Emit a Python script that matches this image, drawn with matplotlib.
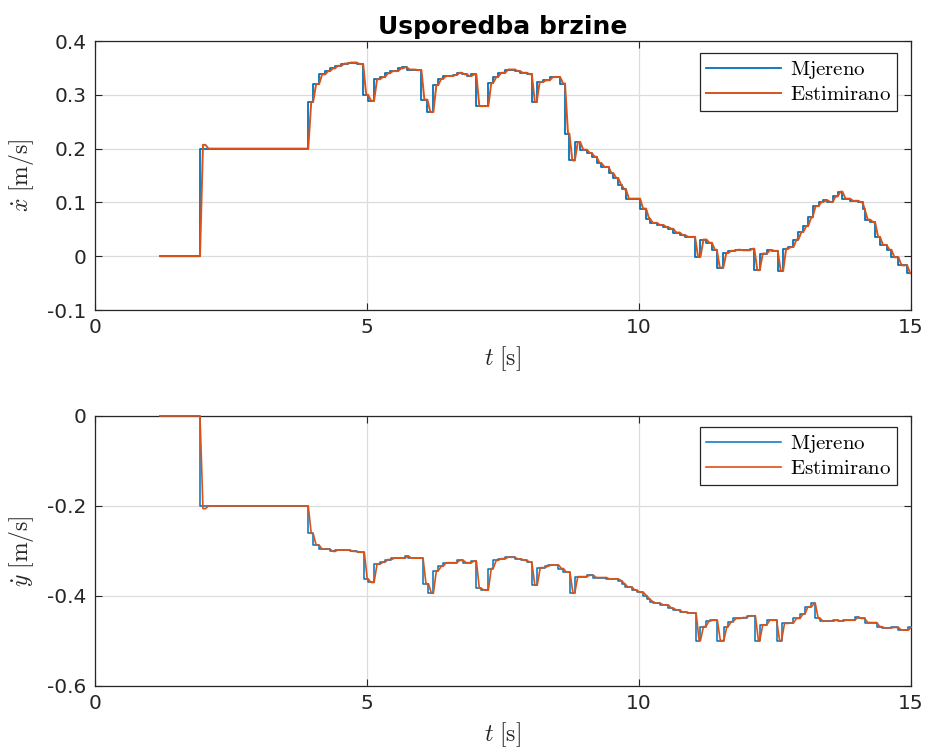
import numpy as np
import matplotlib
matplotlib.use("Agg")
import matplotlib.pyplot as plt

plt.rcParams['mathtext.fontset'] = 'cm'
plt.rcParams['axes.unicode_minus'] = False
plt.rcParams['font.family'] = ['DejaVu Sans']

# ---------------- data ----------------
x_times = [1.2, 1.93, 2.03, 3.92, 4.01, 4.12, 4.23, 4.32, 4.41, 4.53, 4.65, 4.81, 4.93,
           5.02, 5.13, 5.24, 5.33, 5.42, 5.57, 5.65, 5.73, 5.88, 6.0, 6.11, 6.22, 6.31,
           6.4, 6.58, 6.65, 6.74, 6.83, 6.92, 7.01, 7.23, 7.32, 7.41, 7.54, 7.72, 7.81,
           7.94, 8.03, 8.12, 8.24, 8.36, 8.55, 8.64, 8.72, 8.82, 8.92, 9.04, 9.13, 9.22,
           9.31, 9.44, 9.53, 9.62, 9.68, 9.76, 10.02, 10.13, 10.2, 10.33, 10.45, 10.54,
           10.63, 10.75, 10.85, 11.03, 11.13, 11.24, 11.34, 11.43, 11.55, 11.64, 11.76,
           11.86, 12.04, 12.12, 12.22, 12.35, 12.44, 12.55, 12.65, 12.74, 12.84, 12.93,
           13.02, 13.11, 13.19, 13.3, 13.39, 13.46, 13.56, 13.65, 13.74, 13.88, 14.03,
           14.11, 14.15, 14.25, 14.34, 14.43, 14.55, 14.64, 14.77, 14.93, 15.0]
x_measured = [0.0, 0.2, 0.2, 0.287, 0.32, 0.338, 0.344, 0.349, 0.354, 0.358, 0.36, 0.357, 0.30,
              0.289, 0.329, 0.333, 0.34, 0.344, 0.349, 0.351, 0.347, 0.346, 0.291, 0.268, 0.318, 0.33,
              0.335, 0.337, 0.341, 0.338, 0.335, 0.338, 0.279, 0.322, 0.333, 0.341, 0.347, 0.344, 0.341,
              0.338, 0.287, 0.324, 0.327, 0.333, 0.321, 0.228, 0.178, 0.212, 0.198, 0.192, 0.185, 0.173,
              0.166, 0.154, 0.145, 0.132, 0.124, 0.107, 0.0885, 0.07, 0.062, 0.058, 0.054, 0.051,
              0.044, 0.039, 0.036, -0.001, 0.031, 0.025, 0.012, -0.021, 0.006, 0.01, 0.012,
              0.011, 0.014, -0.026, 0.005, 0.011, 0.01, -0.027, 0.014, 0.017, 0.031, 0.045,
              0.056, 0.072, 0.093, 0.101, 0.104, 0.101, 0.111, 0.12, 0.107, 0.103, 0.1,
              0.087, 0.068, 0.063, 0.036, 0.021, 0.012, -0.002, -0.017, -0.032, -0.032]
x_estimated = [0.0, 0.207, 0.2, 0.287, 0.32, 0.338, 0.344, 0.349, 0.354, 0.358, 0.36, 0.357, 0.30,
               0.289, 0.329, 0.333, 0.34, 0.344, 0.349, 0.351, 0.347, 0.346, 0.291, 0.268, 0.318, 0.33,
               0.335, 0.337, 0.341, 0.338, 0.335, 0.338, 0.279, 0.322, 0.333, 0.341, 0.347, 0.344, 0.341,
               0.338, 0.287, 0.324, 0.327, 0.333, 0.321, 0.228, 0.178, 0.212, 0.198, 0.192, 0.185, 0.173,
               0.166, 0.154, 0.145, 0.132, 0.124, 0.107, 0.0885, 0.07, 0.062, 0.058, 0.054, 0.051,
               0.044, 0.039, 0.036, -0.001, 0.031, 0.025, 0.012, -0.021, 0.006, 0.01, 0.012,
               0.011, 0.014, -0.026, 0.005, 0.011, 0.01, -0.027, 0.014, 0.017, 0.031, 0.045,
               0.056, 0.072, 0.093, 0.101, 0.104, 0.101, 0.111, 0.12, 0.107, 0.103, 0.1,
               0.087, 0.068, 0.063, 0.036, 0.021, 0.012, -0.002, -0.017, -0.032, -0.032]

y_times = [1.2, 1.93, 2.03, 3.92, 4.01, 4.12, 4.32, 4.41, 4.69, 4.81, 4.95, 5.02, 5.13, 5.24,
           5.33, 5.45, 5.7, 5.76, 6.03, 6.13, 6.22, 6.31, 6.4, 6.65, 6.77, 6.92, 7.01, 7.1,
           7.23, 7.32, 7.41, 7.54, 7.72, 7.84, 7.94, 8.03, 8.13, 8.27, 8.33, 8.52, 8.61,
           8.73, 8.82, 9.04, 9.16, 9.4, 9.62, 9.68, 9.74, 9.87, 9.96, 10.08, 10.14, 10.2,
           10.26, 10.39, 10.54, 10.63, 10.75, 10.88, 11.05, 11.13, 11.23, 11.3, 11.44,
           11.56, 11.64, 11.73, 11.86, 11.98, 12.14, 12.22, 12.35, 12.53, 12.62, 12.74,
           12.84, 12.96, 13.05, 13.17, 13.24, 13.33, 13.57, 13.66, 13.75, 13.97, 14.03,
           14.15, 14.37, 14.46, 14.64, 14.77, 14.95, 15.0]
y_measured = [0.0, -0.2, -0.2, -0.261, -0.287, -0.296, -0.301, -0.298, -0.301, -0.303, -0.362, -0.37, -0.329, -0.325,
              -0.319, -0.316, -0.311, -0.316, -0.373, -0.394, -0.344, -0.334, -0.326, -0.321, -0.326, -0.322, -0.383, -0.387,
              -0.339, -0.321, -0.317, -0.314, -0.318, -0.321, -0.325, -0.376, -0.337, -0.334, -0.331, -0.339, -0.347,
              -0.393, -0.357, -0.354, -0.359, -0.362, -0.366, -0.373, -0.38, -0.387, -0.392, -0.399, -0.407, -0.413,
              -0.416, -0.42, -0.427, -0.431, -0.436, -0.438, -0.499, -0.468, -0.456, -0.454, -0.499,
              -0.468, -0.457, -0.45, -0.448, -0.444, -0.499, -0.464, -0.454, -0.499, -0.461, -0.46,
              -0.45, -0.44, -0.424, -0.416, -0.45, -0.456, -0.454, -0.456, -0.454, -0.446, -0.45,
              -0.459, -0.468, -0.471, -0.47, -0.476, -0.47, -0.47]
y_estimated = [0.0, -0.206, -0.2, -0.261, -0.287, -0.296, -0.301, -0.298, -0.301, -0.303, -0.362, -0.37, -0.329, -0.325,
               -0.319, -0.316, -0.311, -0.316, -0.373, -0.394, -0.344, -0.334, -0.326, -0.321, -0.326, -0.322, -0.383, -0.387,
               -0.339, -0.321, -0.317, -0.314, -0.318, -0.321, -0.325, -0.376, -0.337, -0.334, -0.331, -0.339, -0.347,
               -0.393, -0.357, -0.354, -0.359, -0.362, -0.366, -0.373, -0.38, -0.387, -0.392, -0.399, -0.407, -0.413,
               -0.416, -0.42, -0.427, -0.431, -0.436, -0.438, -0.499, -0.468, -0.456, -0.454, -0.499,
               -0.468, -0.457, -0.45, -0.448, -0.444, -0.499, -0.464, -0.454, -0.499, -0.461, -0.46,
               -0.45, -0.44, -0.424, -0.416, -0.45, -0.456, -0.454, -0.456, -0.454, -0.446, -0.45,
               -0.459, -0.468, -0.471, -0.47, -0.476, -0.47, -0.47]

x_ticks = [0, 5, 10, 15]
x_ticklabels = ['0', '5', '10', '15']
top_yticks = [-0.1, 0, 0.1, 0.2, 0.3, 0.4]
top_yticklabels = ['-0.1', '0', '0.1', '0.2', '0.3', '0.4']
bot_yticks = [-0.6, -0.4, -0.2, 0]
bot_yticklabels = ['-0.6', '-0.4', '-0.2', '0']
series_labels = ['Mjereno', 'Estimirano']
title_text = 'Usporedba brzine'

BLUE = '#0072BD'
ORANGE = '#D95319'
AXC = '#262626'
RAMP = 0.055  # visual rise time of the estimate line


def ramp_path(t, v, d):
    """Connect successive samples with short slanted transitions."""
    xs, ys = [t[0]], [v[0]]
    for i in range(1, len(t)):
        end = min(t[i] + d, t[i + 1]) if i + 1 < len(t) else t[i]
        xs += [t[i], end]
        ys += [v[i - 1], v[i]]
    return xs, ys


fig = plt.figure(figsize=(9.26, 7.51), dpi=100)
ax1 = fig.add_axes([0.1026, 0.5872, 0.8812, 0.3582])
ax2 = fig.add_axes([0.1026, 0.0866, 0.8812, 0.3595])


def style(ax, yticks, yticklabels, ylim, ylabel, legend_top):
    ax.set_xlim(0, 15)
    ax.set_ylim(*ylim)
    ax.set_xticks(x_ticks)
    ax.set_xticklabels(x_ticklabels)
    ax.set_yticks(yticks)
    ax.set_yticklabels(yticklabels)
    ax.grid(True, color='#dcdcdc', linewidth=0.9)
    ax.set_axisbelow(True)
    ax.tick_params(direction='in', length=5, width=0.8, colors=AXC, labelsize=14.5,
                   top=True, right=True, pad=6)
    for s in ax.spines.values():
        s.set_color(AXC)
        s.set_linewidth(0.9)
    ax.set_xlabel(r'$t\ [\mathrm{s}]$', fontsize=17, color=AXC, labelpad=5)
    ax.set_ylabel(ylabel, fontsize=17, color=AXC, labelpad=8)
    leg = ax.legend(loc='upper right', bbox_to_anchor=(0.983, legend_top), borderaxespad=0,
                    fancybox=False, framealpha=1, edgecolor=AXC, handlelength=3.6,
                    fontsize=15, borderpad=0.3, labelspacing=0.15, handletextpad=0.4)
    leg.get_frame().set_linewidth(0.9)
    for txt in leg.get_texts():
        txt.set_color('black')


ax1.plot(x_times, x_measured, drawstyle='steps-post', color=BLUE, lw=1.3, zorder=3,
         label=r'$\mathrm{%s}$' % series_labels[0])
ex, ey = ramp_path(x_times, x_estimated, RAMP)
ax1.plot(ex, ey, color=ORANGE, lw=1.4, zorder=3, label=r'$\mathrm{%s}$' % series_labels[1])
style(ax1, top_yticks, top_yticklabels, (-0.1, 0.4), r'$\dot{x}\ [\mathrm{m/s}]$', 0.955)
ax1.set_title(title_text, fontsize=18, fontweight='bold', pad=5)

ax2.plot(y_times, y_measured, drawstyle='steps-post', color=BLUE, lw=1.1, zorder=3,
         clip_on=False, label=r'$\mathrm{%s}$' % series_labels[0])
ex, ey = ramp_path(y_times, y_estimated, RAMP)
ax2.plot(ex, ey, color=ORANGE, lw=1.2, zorder=3, clip_on=False,
         label=r'$\mathrm{%s}$' % series_labels[1])
style(ax2, bot_yticks, bot_yticklabels, (-0.6, 0.0), r'$\dot{y}\ [\mathrm{m/s}]$', 0.959)

fig.savefig('out.png', dpi=100)
